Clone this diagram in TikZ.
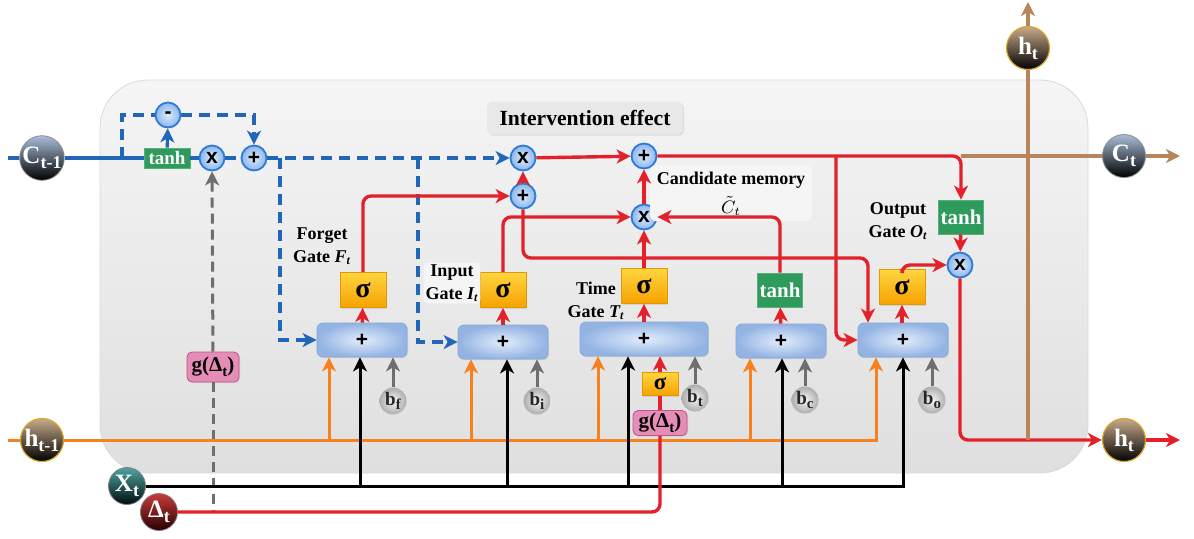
\documentclass[tikz,border=0pt]{standalone}
\usepackage{fontspec}
\setmainfont{Liberation Serif}
\newfontfamily\opsans{Liberation Sans}
\usepackage{xcolor}
\usetikzlibrary{positioning,arrows.meta,shadows}

\definecolor{wblue}{HTML}{2166B8}
\definecolor{wred}{HTML}{E3212B}
\definecolor{worange}{HTML}{F7811E}
\definecolor{wbrown}{HTML}{B8845A}
\definecolor{wgray}{HTML}{6E6E6E}
\definecolor{sumin}{HTML}{E2EDFB}
\definecolor{sumout}{HTML}{93B3E3}
\definecolor{sumedge}{HTML}{86A8DA}
\definecolor{sigtop}{HTML}{FFD53F}
\definecolor{sigbot}{HTML}{F5A200}
\definecolor{sigedge}{HTML}{E39A00}
\definecolor{tanhgreen}{HTML}{2E9A5C}
\definecolor{opin}{HTML}{DCEAFB}
\definecolor{opout}{HTML}{8DB6EC}
\definecolor{opedge}{HTML}{2C7BD6}
\definecolor{gpink}{HTML}{E58DB6}
\definecolor{gpinkdk}{HTML}{B9578A}
\definecolor{bgtop}{HTML}{F5F5F5}
\definecolor{bgbot}{HTML}{DFDFDF}
\definecolor{balltop}{HTML}{A9BDD9}
\definecolor{brtop}{HTML}{C7AB8B}
\definecolor{brgold}{HTML}{D9A62E}
\definecolor{tltop}{HTML}{4FA3A3}
\definecolor{rdtop}{HTML}{C93B3B}

\newcommand{\lowtxt}[1]{\raisebox{-0.45ex}{\fontsize{9}{9}\selectfont #1}}
\newcommand{\lowsmall}[1]{\raisebox{-0.45ex}{\fontsize{7.5}{7.5}\selectfont #1}}

\begin{document}
\begin{tikzpicture}[x=0.5pt,y=-0.5pt,
  >={Stealth[length=7pt,width=7pt,inset=2pt]},
  font=\bfseries,
  ball/.style={circle,inner sep=0pt,minimum size=21.5pt,text=white,font=\bfseries\fontsize{12.5}{12.5}\selectfont},
  cball/.style={ball,draw=black!45,top color=balltop,bottom color=black},
  hball/.style={ball,draw=brgold,line width=0.6pt,top color=brtop,bottom color=black},
  xball/.style={ball,minimum size=18.5pt,draw=black!50,top color=tltop,bottom color=black!90!teal},
  dball/.style={ball,minimum size=18.5pt,draw=black!50,top color=rdtop,bottom color=black!85!red},
  sumbox/.style={rounded corners=3pt,minimum width=45pt,minimum height=17pt,inner sep=0pt,
    inner color=sumin,outer color=sumout,draw=sumedge,font=\opsans\bfseries\fontsize{10.5}{10.5}\selectfont,
    drop shadow={opacity=0.2,shadow xshift=0.6pt,shadow yshift=-0.6pt}},
  sigbox/.style={minimum width=23pt,minimum height=17.5pt,inner sep=0pt,top color=sigtop,bottom color=sigbot,
    draw=sigedge,font=\bfseries\fontsize{14}{14}\selectfont,
    drop shadow={opacity=0.2,shadow xshift=0.6pt,shadow yshift=-0.6pt}},
  tanhbox/.style={minimum width=22.5pt,minimum height=17pt,inner sep=0pt,fill=tanhgreen,draw=tanhgreen!80!white,
    text=white,font=\bfseries\fontsize{10.5}{10.5}\selectfont},
  opc/.style={circle,minimum size=12.5pt,inner sep=0pt,draw=opedge,line width=0.9pt,inner color=opin,outer color=opout,
    font=\opsans\bfseries\fontsize{10.5}{10.5}\selectfont},
  bias/.style={circle,minimum size=13.5pt,inner sep=0pt,inner color=black!4,outer color=black!32,
    text=black!85,font=\bfseries\fontsize{9.5}{9.5}\selectfont},
  gbox/.style={rounded corners=2.5pt,fill=gpink,draw=gpinkdk,inner xsep=1.5pt,inner ysep=0pt,minimum height=13pt,
    font=\bfseries\fontsize{10.5}{10.5}\selectfont,
    drop shadow={opacity=0.2,shadow xshift=0.6pt,shadow yshift=-0.6pt}},
  lbl/.style={align=center,inner sep=1pt,font=\bfseries\fontsize{9}{11.5}\selectfont},
  rline/.style={draw=wred,line width=1.7pt,rounded corners=4pt},
  oline/.style={draw=worange,line width=1.5pt},
  kline/.style={draw=black,line width=1.5pt},
  gline/.style={draw=wgray,line width=1.5pt},
  bline/.style={draw=wblue,line width=1.6pt},
  bdash/.style={draw=wblue,line width=1.6pt,dash pattern=on 5.5pt off 3.5pt},
  gdash/.style={draw=wgray,line width=1.5pt,dash pattern=on 5pt off 3pt},
  brline/.style={draw=wbrown,line width=1.6pt}
]
\useasboundingbox (0,0) rectangle (1194,538);
% cell background
\path[draw=black!15,top color=bgtop,bottom color=bgbot,rounded corners=24pt] (100,80) rectangle (1088,473);

% inputs and outputs
\coordinate (cin) at (8,158);
\coordinate (hin) at (8,440);
\node[cball] (cprev) at (42,158) {C\lowtxt{t-1}};
\node[hball] (hprev) at (42,440) {h\lowtxt{t-1}};
\node[xball] (xt) at (127,486) {X\lowtxt{t}};
\node[dball] (dt) at (159,512) {Δ\lowtxt{t}};
\node[hball] (htop) at (1028,48) {h\lowtxt{t}};
\node[cball] (cnext) at (1124,156) {C\lowtxt{t}};
\node[hball] (hnext) at (1124,440) {h\lowtxt{t}};
\coordinate (htopend) at (1028,2);
\coordinate (cend) at (1180,156);
\coordinate (hend) at (1180,440);

% intervention part
\node[tanhbox,minimum width=23pt,minimum height=10pt,font=\bfseries\fontsize{9.5}{9.5}\selectfont] (tanhA) at (167,158) {tanh};
\node[opc] (mulA) at (212,158) {x};
\node[opc] (addA) at (254,158) {+};
\node[opc] (subA) at (168,115) {-};
\node[gbox,minimum width=26pt,minimum height=15pt] (gA) at (213,367) {g(Δ\lowsmall{t})};
\node[fill=black!9,rounded corners=3pt,minimum width=98pt,minimum height=16.5pt,inner sep=0pt,
  font=\bfseries\fontsize{10.8}{10.8}\selectfont,
  drop shadow={opacity=0.2,shadow xshift=0.6pt,shadow yshift=-0.6pt}] (title) at (585,118) {Intervention effect};
\coordinate (splitA) at (122,158);
\coordinate (tapF) at (280,158);
\coordinate (tapI) at (418,158);

% gates
\node[sumbox] (fgsum) at (362,340) {+};
\node[sumbox] (insum) at (503,342) {+};
\node[sumbox,minimum width=64pt] (tmsum) at (644,339) {+};
\node[sumbox] (cdsum) at (781,341) {+};
\node[sumbox] (otsum) at (903,340) {+};
\node[sigbox] (fgsig) at (363,290) {σ};
\node[sigbox] (insig) at (503,290) {σ};
\node[sigbox] (tmsig) at (644,286) {σ};
\node[tanhbox] (cdtanh) at (780,290) {tanh};
\node[sigbox] (otsig) at (902,287) {σ};
\node[tanhbox] (ottanh) at (961,217) {tanh};
\node[sigbox,minimum width=18pt,minimum height=11.5pt,font=\bfseries\fontsize{11.5}{11.5}\selectfont] (dsig) at (660,384) {σ};
\node[gbox,minimum width=27pt,minimum height=12.5pt] (gB) at (660,423) {g(Δ\lowsmall{t})};
\node[bias] (bf) at (393,401) {b\lowsmall{f}};
\node[bias] (bi) at (537,401) {b\lowsmall{i}};
\node[bias] (bt) at (695,398) {b\lowsmall{t}};
\node[bias] (bc) at (805,400) {b\lowsmall{c}};
\node[bias] (bo) at (932,400) {b\lowsmall{o}};

% state operations
\node[opc] (mulB) at (523,158) {x};
\node[opc] (addB) at (523,196) {+};
\node[opc] (addC) at (644,156) {+};
\node[opc] (mulC) at (644,217) {x};
\node[opc] (mulD) at (960,265) {x};
\coordinate (bendB) at (868,258);
\coordinate (tapC) at (836,156);

% labels
\node[lbl] (fglbl) at (322,246) {Forget\\Gate \textit{F\textsubscript{t}}};
\node[lbl,fill=black!4,rounded corners=2pt] (inlbl) at (452,283) {Input\\Gate \textit{I\textsubscript{t}}};
\node[lbl] (tmlbl) at (596,301) {Time\\Gate \textit{T\textsubscript{t}}};
\node[fill=black!4,rounded corners=3pt,minimum width=81pt,minimum height=28pt] (cdbg) at (731,193) {};
\node[lbl] (cdlbl) at (731,180) {Candidate memory};
\node[lbl,font=\fontsize{9}{9}\selectfont] (cdsym) at (731,206) {$\tilde{C}_t$};
\node[lbl] (otlbl) at (898,221) {Output\\Gate \textit{O\textsubscript{t}}};

% cell state input path
\draw[bline] (cin) -- (cprev);
\draw[bline] (cprev) -- (tanhA);
\draw[bline] (tanhA) -- (mulA);
\draw[bline,->] (tanhA) -- (subA);
\draw[bdash] (splitA) |- (subA);
\draw[bdash,->] (subA) -| (addA);
\draw[bdash] (mulA) -- (addA);
\draw[gdash,->] (gA) -- (mulA);
\draw[gdash] (gA) -- (gA |- dt);
\draw[bdash,->] (addA) -- (mulB);
\draw[bdash,->] (tapF) |- (fgsum.west);
\draw[bdash,->] (tapI) |- (insum.west);

% input buses
\draw[oline] (hin) -- (hprev);
\draw[oline,->] (hprev) -| ([xshift=-13.5pt]otsum.south);
\draw[oline,<-] ([xshift=-16.5pt]fgsum.south) -- ([xshift=-16.5pt]fgsum.south |- hprev);
\draw[oline,<-] ([xshift=-16pt]insum.south) -- ([xshift=-16pt]insum.south |- hprev);
\draw[oline,<-] ([xshift=-23pt]tmsum.south) -- ([xshift=-23pt]tmsum.south |- hprev);
\draw[oline,<-] ([xshift=-15.5pt]cdsum.south) -- ([xshift=-15.5pt]cdsum.south |- hprev);
\draw[kline,->] (xt) -| (otsum.south);
\draw[kline,<-] ([xshift=-1pt]fgsum.south) -- ([xshift=-1pt]fgsum.south |- xt);
\draw[kline,<-] ([xshift=2pt]insum.south) -- ([xshift=2pt]insum.south |- xt);
\draw[kline,<-] ([xshift=-8pt]tmsum.south) -- ([xshift=-8pt]tmsum.south |- xt);
\draw[kline,<-] ([xshift=0.5pt]cdsum.south) -- ([xshift=0.5pt]cdsum.south |- xt);
\draw[gline,->] (bf) -- (bf |- fgsum.south);
\draw[gline,->] (bi) -- (bi |- insum.south);
\draw[gline,->] (bt) -- (bt |- tmsum.south);
\draw[gline,->] (bc) -- (bc |- cdsum.south);
\draw[gline,->] (bo) -- (bo |- otsum.south);
\draw[rline] (dt) -| (gB);
\draw[rline] (gB) -- (dsig);
\draw[rline,->] (dsig) -- (dsig |- tmsum.south);

% gate outputs
\draw[rline,->] (fgsum) -- (fgsig);
\draw[rline,->] (insum) -- (insig);
\draw[rline,->] (tmsum) -- (tmsig);
\draw[rline,->] (cdsum) -- (cdtanh);
\draw[rline,->] (otsum.north -| otsig) -- (otsig);
\draw[rline,->] (fgsig) |- (addB);
\draw[rline,->] (insig) |- (mulC);
\draw[rline,->] (tmsig) -- (mulC);
\draw[rline,->] (cdtanh) |- (mulC);
\draw[rline,->] (addB) -- (mulB);
\draw[rline,->] (addB) |- (bendB) -- ([xshift=-17.5pt]otsum.north);
\draw[rline,->] (mulB) -- (addC);
\draw[rline,->] (mulC) -- (addC);
\draw[rline,->] (addC) -| (ottanh);
\draw[rline,->] (tapC) |- (otsum.west);
\draw[rline,->] (ottanh) -- (mulD);
\draw[rline,->] (otsig) |- (mulD);
\draw[rline,->] (mulD) |- (hnext);
\draw[rline,->] (hnext) -- (hend);
\draw[brline] (ottanh |- addC) -- (cnext);
\draw[brline,->] (cnext) -- (cend);
\draw[brline] (htop |- hnext) -- (htop);
\draw[brline,->] (htop) -- (htopend);
\end{tikzpicture}
\end{document}
